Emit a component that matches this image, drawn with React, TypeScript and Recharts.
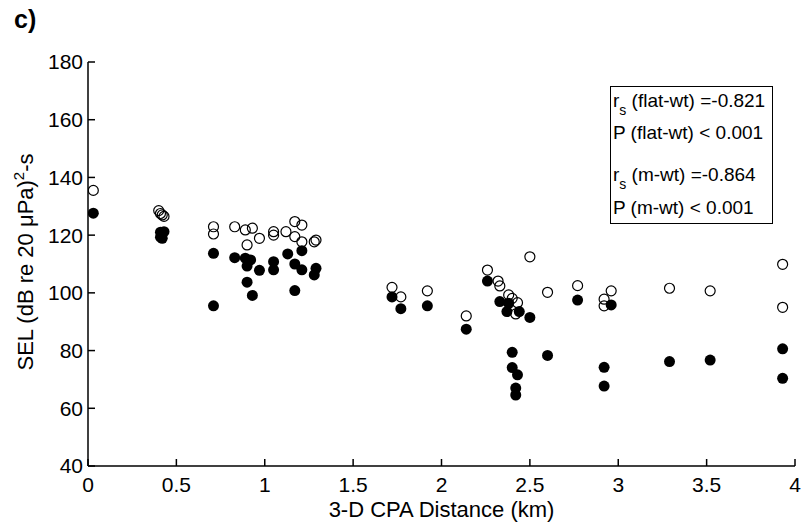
import { ScatterChart, Scatter, XAxis, YAxis } from "recharts";

// open circles: flat-wt
const flatDist = [0.03, 0.4, 0.41, 0.42, 0.43, 0.71, 0.71, 0.83, 0.89, 0.93, 0.9, 0.97, 1.05, 1.05, 1.12, 1.17, 1.21, 1.17, 1.21, 1.29, 1.28, 1.72, 1.77, 1.92, 2.14, 2.26, 2.32, 2.33, 2.38, 2.4, 2.43, 2.42, 2.5, 2.6, 2.77, 2.92, 2.92, 2.96, 3.29, 3.52, 3.93, 3.93];
const flatSel = [135.5, 128.5, 127.5, 127, 126.5, 122.9, 120.4, 122.9, 121.8, 122.4, 116.6, 118.9, 121.2, 120, 121.2, 124.7, 123.5, 119.5, 117.7, 118.3, 117.7, 101.9, 98.6, 100.7, 92, 107.9, 104.1, 102.4, 99.3, 98.1, 96.6, 92.7, 112.5, 100.2, 102.5, 97.8, 95.5, 100.7, 101.6, 100.7, 109.9, 95];

// filled circles: m-wt
const mwtDist = [0.03, 0.41, 0.43, 0.41, 0.42, 0.71, 0.71, 0.83, 0.89, 0.92, 0.9, 0.9, 0.93, 0.97, 1.05, 1.05, 1.13, 1.21, 1.17, 1.21, 1.29, 1.28, 1.17, 1.72, 1.77, 1.92, 2.14, 2.26, 2.33, 2.38, 2.37, 2.44, 2.5, 2.4, 2.4, 2.43, 2.42, 2.42, 2.6, 2.77, 2.92, 2.92, 2.96, 3.29, 3.52, 3.93, 3.93];
const mwtSel = [127.6, 121, 121.2, 119.3, 118.9, 113.7, 95.5, 112.2, 112, 111.4, 109.3, 103.7, 99.1, 107.8, 110.8, 108, 113.5, 114.6, 110, 108, 108.5, 106.2, 100.8, 98.6, 94.5, 95.5, 87.4, 104.1, 97, 96.4, 93.5, 93.5, 91.5, 79.4, 74.1, 71.6, 67, 64.6, 78.3, 97.5, 74.2, 67.7, 95.8, 76.2, 76.7, 80.6, 70.4];

const xTicks = [0, 0.5, 1, 1.5, 2, 2.5, 3, 3.5, 4];
const yTicks = [40, 60, 80, 100, 120, 140, 160, 180];

const statLines = [
  { r: true, label: " (flat-wt) =-0.821" },
  { r: false, label: "P (flat-wt) < 0.001" },
  { r: true, label: " (m-wt) =-0.864" },
  { r: false, label: "P (m-wt) < 0.001" },
];

const flat = flatDist.map((d, i) => ({ d, sel: flatSel[i] }));
const mwt = mwtDist.map((d, i) => ({ d, sel: mwtSel[i] }));

const font = "'Liberation Sans', Arial, sans-serif";
const tickStyle = { fontSize: 21, fill: "#000", fontFamily: font };

const OpenDot = (p: any) => <circle cx={p.cx} cy={p.cy} r={5} fill="none" stroke="#000" strokeWidth={1.2} />;
const FilledDot = (p: any) => <circle cx={p.cx} cy={p.cy} r={5.5} fill="#000" />;

const YLabel = () => (
  <text x={33} y={262} transform="rotate(-90 33 262)" textAnchor="middle" fontSize={22} fontFamily={font} fill="#000">
    SEL (dB re 20 μPa)
    <tspan dy={-9} fontSize={15}>2</tspan>
    <tspan dy={9}>-s</tspan>
  </text>
);

export default function App() {
  const lineY = [107, 139, 181, 214];
  return (
    <div style={{ position: "absolute", left: 0, top: 0, width: 803, height: 525, background: "#fff" }}>
      <ScatterChart width={803} height={525} margin={{ top: 62, right: 8, bottom: 0, left: 0 }}>
        <XAxis
          xAxisId="b"
          dataKey="d"
          type="number"
          domain={[0, 4]}
          ticks={xTicks}
          allowDataOverflow
          height={59}
          stroke="#000"
          strokeWidth={1.5}
          tickSize={-7}
          tickMargin={18}
          tick={tickStyle}
          label={{ value: "3-D CPA Distance (km)", position: "insideBottom", offset: 8, fontSize: 22, fill: "#000", fontFamily: font }}
        />
        <XAxis xAxisId="t" dataKey="d" type="number" orientation="top" domain={[0, 4]} ticks={xTicks} allowDataOverflow height={0} stroke="#000" strokeWidth={1.5} tickSize={-7} tick={false} />
        <YAxis
          yAxisId="l"
          dataKey="sel"
          type="number"
          domain={[40, 180]}
          ticks={yTicks}
          allowDataOverflow
          width={88}
          stroke="#000"
          strokeWidth={1.5}
          tickSize={-7}
          tickMargin={12}
          tick={tickStyle}
          label={<YLabel />}
        />
        <YAxis yAxisId="r" dataKey="sel" type="number" orientation="right" domain={[40, 180]} ticks={yTicks} allowDataOverflow width={0} stroke="#000" strokeWidth={1.5} tickSize={-7} tick={false} />
        <Scatter data={mwt} xAxisId="b" yAxisId="l" shape={FilledDot} isAnimationActive={false} />
        <Scatter data={flat} xAxisId="t" yAxisId="r" shape={OpenDot} isAnimationActive={false} />
      </ScatterChart>
      <svg width={803} height={525} style={{ position: "absolute", left: 0, top: 0, pointerEvents: "none" }}>
        <text x={14} y={28} fontSize={25} fontWeight="bold" fontFamily={font} fill="#000">c)</text>
        <rect x={610.5} y={86.5} width={162} height={137} fill="#fff" stroke="#000" strokeWidth={1} />
        {statLines.map((l, i) => (
          <text key={i} x={613} y={lineY[i]} fontSize={19} fontFamily={font} fill="#000">
            {l.r ? (
              <>
                r<tspan dy={8} fontSize={14}>s</tspan>
                <tspan dy={-8}>{l.label}</tspan>
              </>
            ) : (
              l.label
            )}
          </text>
        ))}
      </svg>
    </div>
  );
}
